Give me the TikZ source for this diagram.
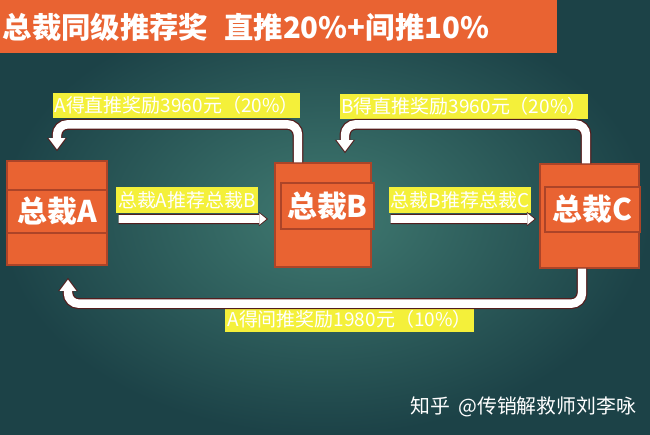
\documentclass[tikz,border=0pt]{standalone}
\usepackage{fontspec}
\setmainfont{Noto Sans CJK SC}
\usepackage{tikz}
\usetikzlibrary{arrows.meta,positioning,calc}
\definecolor{bgin}{RGB}{64,122,113}
\definecolor{bgout}{RGB}{28,66,71}
\definecolor{zorange}{RGB}{233,99,50}
\definecolor{zedge}{RGB}{172,68,40}
\definecolor{hilite}{RGB}{244,240,58}
\definecolor{rim}{RGB}{84,30,30}
\tikzset{head/.style={fill=zorange,anchor=north west,minimum width=11.14cm,minimum height=1.06cm,text width=11.04cm,align=left,inner xsep=0.05cm,inner ysep=0pt,font=\bfseries\fontsize{16.7}{20}\selectfont,text=white},zc/.style={draw=zedge,fill=zorange,line width=0.7pt,inner sep=0pt,minimum height=2.08cm},band/.style={draw=zedge,fill=zorange,line width=0.9pt,inner sep=0pt,font=\bfseries\fontsize{17}{20}\selectfont,text=white},tag/.style={fill=hilite,inner sep=0pt,minimum height=0.51cm,font=\fontsize{10.8}{12}\selectfont,text=white},flow/.style={draw=white,line width=4.5pt,-{Triangle[length=4pt,width=6.6pt,line width=0pt]},preaction={draw=rim,line width=5.8pt,shorten >=-0.9pt,-{Triangle[length=5.2pt,width=8.2pt,line width=0pt]}}},loop/.style={draw=white,line width=4.8pt,rounded corners=6pt,-{Triangle[length=6.4pt,width=9.6pt,line width=0pt]},preaction={draw=rim,line width=6.2pt,rounded corners=6pt,shorten >=-1pt,-{Triangle[length=7.6pt,width=11.4pt,line width=0pt]}}}}
\begin{document}
\begin{tikzpicture}
\shade[inner color=bgin,outer color=bgout] (0,0) rectangle (13,-8.7);
\useasboundingbox (0,0) rectangle (13,-8.7);
\node[head] (title) at (0,0) {总裁同级推荐奖\hspace{0.55em}直推20\%+间推10\%};
\node[zc,minimum width=2cm] (a) at (1.14,-4.26) {};
\node[band,minimum width=2cm,minimum height=0.86cm] (ta) at (1.14,-4.23) {总裁A};
\node[zc,minimum width=1.92cm] (b) at (6.46,-4.30) {};
\node[band,minimum width=1.86cm,minimum height=0.92cm] (tb) at (6.55,-4.12) {总裁B};
\node[zc,minimum width=1.98cm] (c) at (11.79,-4.32) {};
\node[band,minimum width=1.9cm,minimum height=0.9cm] (tc) at (11.85,-4.19) {总裁C};
\node[tag,minimum width=2.84cm,anchor=south west] (ab) at ([xshift=0.16cm]a.east) {总裁A推荐总裁B};
\node[tag,minimum width=2.84cm,anchor=south west] (bc) at ([shift={(0.34cm,0.04cm)}]b.east) {总裁B推荐总裁C};
\node[tag,minimum width=4.94cm] (ga) at (3.53,-2.11) {A得直推奖励3960元（20\%）};
\node[tag,minimum width=4.96cm] (gb) at (9.28,-2.13) {B得直推奖励3960元（20\%）};
\node[tag,minimum width=4.98cm] (ja) at (6.99,-6.39) {A得间推奖励1980元（10\%）};
\draw[flow] ([shift={(0.06cm,-0.12cm)}]ab.south west) -- ([shift={(-0.16cm,-0.08cm)}]b.west);
\draw[flow] ([shift={(0.04cm,-0.12cm)}]bc.south west) -- ([shift={(-0.1cm,-0.06cm)}]c.west);
\draw[loop] ([xshift=-0.5cm]b.north) -- ++(0,0.76cm) -| ([yshift=0.22cm]a.north);
\draw[loop] ([xshift=-0.07cm]c.north) -- ++(0,0.78cm) -| ([shift={(0.44cm,0.22cm)}]b.north);
\draw[loop] ([xshift=-0.15cm]c.south) -- ++(0,-0.7cm) -| ([shift={(0.22cm,-0.28cm)}]a.south);
\node[text=white,font=\fontsize{11.3}{13}\selectfont] (zhihu) at (10.47,-8.14) {知乎\hspace{0.4em}@传销解救师刘李咏};
\end{tikzpicture}
\end{document}
